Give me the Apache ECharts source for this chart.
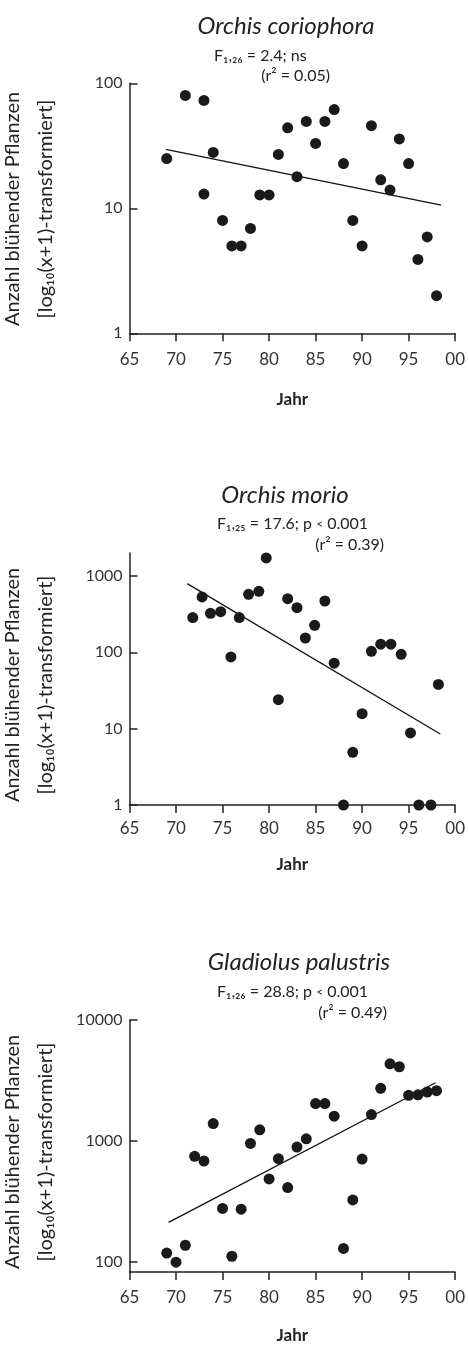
<!DOCTYPE html>
<html><head><meta charset="utf-8">
<script src="https://cdn.jsdelivr.net/npm/echarts@6/dist/echarts.min.js"></script>
<style>html,body{margin:0;padding:0;background:#fff}#c{width:468px;height:1345px}</style>
</head><body><div id="c"></div>
<script>
// ---- data ----
const xTickValues = [65, 70, 75, 80, 85, 90, 95, 100];
const xTickLabels = ['65', '70', '75', '80', '85', '90', '95', '00'];

const coriophoraYears  = [69, 71, 73, 73, 74, 75, 76, 77, 78, 79, 80, 81, 82, 83, 84, 85, 86, 87, 88, 89, 90, 91, 92, 93, 94, 95, 96, 97, 98];
const coriophoraCounts = [25, 80, 73, 13, 28, 8, 5, 5, 6.9, 12.8, 12.8, 27, 44, 17.9, 49.5, 33, 49.5, 61.6, 22.8, 8, 5, 45.8, 16.9, 14, 35.9, 22.8, 3.9, 5.9, 2];
const coriophoraTrendYears = [68.9, 98.5];
const coriophoraTrend      = [29.6, 10.6];
const coriophoraTicks = [1, 10, 100];

const morioYears  = [71.8, 72.8, 73.7, 74.8, 75.9, 76.8, 77.8, 78.9, 79.7, 81, 82, 83, 83.9, 84.9, 86, 87, 88, 89, 90, 91, 92, 93.1, 94.2, 95.2, 96.1, 97.4, 98.2];
const morioCounts = [285, 531, 324, 341, 87, 285, 575, 630, 1722, 24, 505, 385, 154, 226, 470, 72, 1, 4.9, 15.7, 103, 128, 128, 94, 8.8, 1, 1, 38];
const morioTrendYears = [71.2, 98.4];
const morioTrend      = [794, 8.5];
const morioTicks = [1, 10, 100, 1000];

const gladiolusYears  = [69, 70, 71, 72, 73, 74, 75, 76, 77, 78, 79, 80, 81, 82, 83, 84, 85, 86, 87, 88, 89, 90, 91, 92, 93, 94, 95, 96, 97, 98];
const gladiolusCounts = [119, 100, 138, 748, 685, 1397, 278, 112, 274, 957, 1240, 487, 716, 413, 893, 1045, 2040, 2040, 1605, 130, 327, 711, 1656, 2727, 4350, 4110, 2388, 2410, 2543, 2608];
const gladiolusTrendYears = [69.2, 97.9];
const gladiolusTrend      = [213, 3035];
const gladiolusTicks = [100, 1000, 10000];

const titles = ['Orchis coriophora', 'Orchis morio', 'Gladiolus palustris'];
const statLines = [
  ['{n|F₁,₂₆ = 2.4; ns}', '{n|(r² = 0.05)}'],
  ['{n|F₁,₂₅ = 17.6; p }{lt|<}{n| 0.001}', '{n|(r² = 0.39)}'],
  ['{n|F₁,₂₆ = 28.8; p }{lt|<}{n| 0.001}', '{n|(r² = 0.49)}']
];
const yTitle1 = 'Anzahl blühender Pflanzen';
const yTitle2 = '[log₁₀(x+1)-transformiert]';

// ---- layout ----
const FONT = 'Lato';
const INK = '#222';
const grids = [
  {left: 129.5, top: 83.3, width: 331.5, height: 250},
  {left: 129.5, top: 553, width: 331.5, height: 252},
  {left: 129.5, top: 1020, width: 331.5, height: 253.3}
];
const yRanges = [[1, 100], [1, 2000], [83, 10000]];
const yTicks = [coriophoraTicks, morioTicks, gladiolusTicks];
const xLabelMargin = [18, 15, 17];
const xNameGap = [58, 51, 55];

function xAxisFor(i) {
  return {
    type: 'value', gridIndex: i, min: 65, max: 100, interval: 5,
    axisLine: {show: true, lineStyle: {color: INK, width: 1.5}},
    axisTick: {show: true, inside: false, length: 8, lineStyle: {color: INK, width: 1.5}},
    axisLabel: {margin: xLabelMargin[i], fontSize: 17, color: '#333', fontFamily: FONT,
      formatter: v => { const k = xTickValues.indexOf(Math.round(v)); return k >= 0 ? xTickLabels[k] : ''; }},
    splitLine: {show: false},
    name: 'Jahr', nameLocation: 'middle', nameGap: xNameGap[i],
    nameTextStyle: {fontSize: 17, fontWeight: 'bold', color: INK, fontFamily: FONT}
  };
}
function yAxisFor(i) {
  return {
    type: 'log', logBase: 10, gridIndex: i, min: yRanges[i][0], max: yRanges[i][1],
    axisLine: {show: true, lineStyle: {color: INK, width: 1.5}},
    axisTick: {show: true, inside: true, length: 8, lineStyle: {color: INK, width: 1.5}, customValues: yTicks[i]},
    axisLabel: {margin: 7, fontSize: 16, color: '#333', fontFamily: FONT, customValues: yTicks[i],
      formatter: v => String(Math.round(v))},
    splitLine: {show: false}
  };
}
function pairs(xs, ys) { return xs.map((x, k) => [x, ys[k]]); }

const sets = [
  [coriophoraYears, coriophoraCounts, coriophoraTrendYears, coriophoraTrend],
  [morioYears, morioCounts, morioTrendYears, morioTrend],
  [gladiolusYears, gladiolusCounts, gladiolusTrendYears, gladiolusTrend]
];
const series = [];
sets.forEach((s, i) => {
  series.push({type: 'line', xAxisIndex: i, yAxisIndex: i, data: pairs(s[2], s[3]), showSymbol: false, silent: true,
    lineStyle: {color: '#111', width: 1.3}, z: 2});
  series.push({type: 'scatter', xAxisIndex: i, yAxisIndex: i, data: pairs(s[0], s[1]), symbolSize: 11,
    itemStyle: {color: '#1a1a1a', opacity: 1}, z: 3});
});

const titlePos = [{x: 286, y: 26}, {x: 285, y: 495}, {x: 299, y: 962}];
const statPos = [
  [{x: 214, y: 56}, {x: 330, y: 76}],
  [{x: 217, y: 524}, {x: 384, y: 545}],
  [{x: 217, y: 992}, {x: 387, y: 1013}]
];
const yTitleY = [209, 685, 1152];
const rich = {
  n: {fontSize: 16, fontFamily: FONT, fill: INK, color: INK},
  lt: {fontSize: 12, fontFamily: FONT, fill: INK, color: INK}
};

const graphic = [];
titles.forEach((t, i) => {
  graphic.push({type: 'text', x: titlePos[i].x, y: titlePos[i].y, silent: true,
    style: {text: t, fontSize: 24, fontStyle: 'italic', fontFamily: FONT, fill: INK, align: 'center', verticalAlign: 'middle'}});
  graphic.push({type: 'text', x: statPos[i][0].x, y: statPos[i][0].y, silent: true,
    style: {text: statLines[i][0], rich: rich, align: 'left', verticalAlign: 'middle', fill: INK}});
  graphic.push({type: 'text', x: statPos[i][1].x, y: statPos[i][1].y, silent: true,
    style: {text: statLines[i][1], rich: rich, align: 'right', verticalAlign: 'middle', fill: INK}});
  graphic.push({type: 'text', x: 13, y: yTitleY[i], rotation: Math.PI / 2, silent: true,
    style: {text: yTitle1, fontSize: 20, fontFamily: FONT, fill: INK, align: 'center', verticalAlign: 'middle'}});
  graphic.push({type: 'text', x: 46, y: yTitleY[i], rotation: Math.PI / 2, silent: true,
    style: {text: yTitle2, fontSize: 20, fontFamily: FONT, fill: INK, align: 'center', verticalAlign: 'middle'}});
});

const chart = echarts.init(document.getElementById('c'), null, {renderer: 'canvas'});
chart.setOption({
  animation: false,
  backgroundColor: '#fff',
  textStyle: {fontFamily: FONT},
  grid: grids,
  xAxis: [0, 1, 2].map(xAxisFor),
  yAxis: [0, 1, 2].map(yAxisFor),
  series: series,
  graphic: graphic
});
</script></body></html>
